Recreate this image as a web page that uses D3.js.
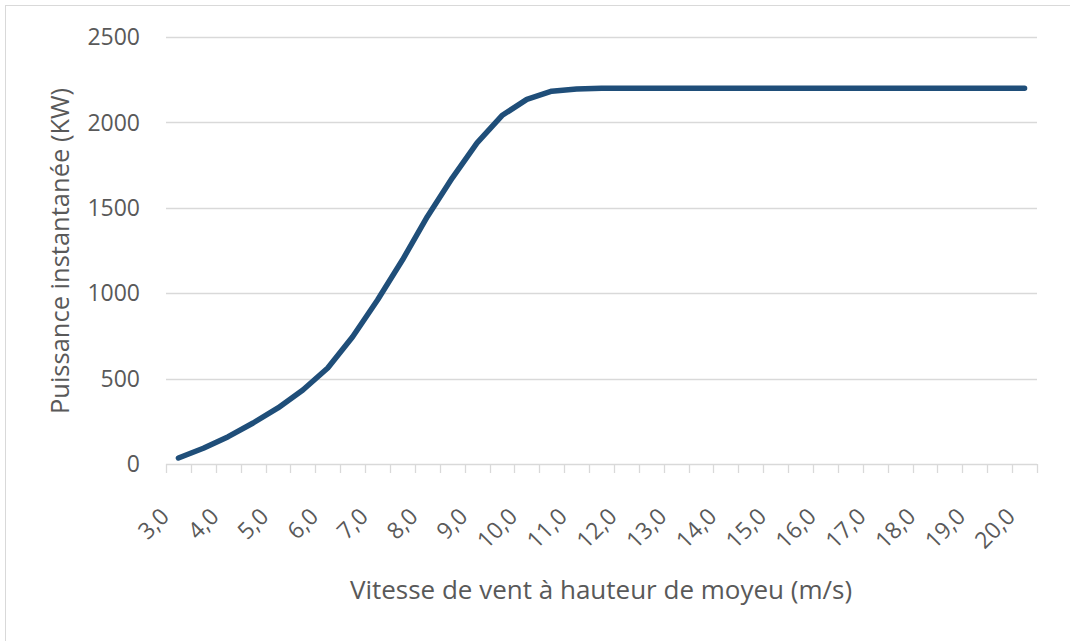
<!DOCTYPE html>
<html>
<head>
<meta charset="utf-8">
<script src="https://cdn.jsdelivr.net/npm/d3@7"></script>
<style>
  html, body { margin: 0; padding: 0; background: #fff; }
  svg { display: block; }
  text { font-family: "Open Sans", sans-serif; fill: #595959; }
</style>
</head>
<body>
<svg id="chart" width="1070" height="641"></svg>
<script>
// wind speed categories (m/s)
const speeds = [3.0, 3.5, 4.0, 4.5, 5.0, 5.5, 6.0, 6.5, 7.0, 7.5, 8.0, 8.5, 9.0, 9.5,
  10.0, 10.5, 11.0, 11.5, 12.0, 12.5, 13.0, 13.5, 14.0, 14.5, 15.0, 15.5, 16.0, 16.5,
  17.0, 17.5, 18.0, 18.5, 19.0, 19.5, 20.0];
// instantaneous power (kW)
const power = [35, 92, 160, 240, 328, 433, 562, 745, 960, 1194, 1448, 1674, 1880, 2040,
  2135, 2183, 2195, 2200, 2200, 2200, 2200, 2200, 2200, 2200, 2200, 2200, 2200, 2200,
  2200, 2200, 2200, 2200, 2200, 2200, 2200];
const yTicks = [0, 500, 1000, 1500, 2000, 2500];
const xTitle = "Vitesse de vent à hauteur de moyeu (m/s)";
const yTitle = "Puissance instantanée (KW)";

const svg = d3.select("#chart");
const plotLeft = 166, plotRight = 1037, plotTop = 37, plotBottom = 464;
const grid = "#d9d9d9";

// chart frame
svg.append("rect")
  .attr("x", 5.5).attr("y", 5.5)
  .attr("width", 1080).attr("height", 650)
  .attr("fill", "none").attr("stroke", grid);

const x = d3.scaleBand().domain(d3.range(speeds.length)).range([plotLeft, plotRight]).padding(0);
const y = d3.scaleLinear().domain([0, 2500]).range([plotBottom, plotTop]);

// horizontal gridlines
svg.append("g").selectAll("line")
  .data(yTicks.filter(d => d > 0))
  .join("line")
  .attr("x1", plotLeft).attr("x2", plotRight)
  .attr("y1", d => Math.round(y(d)) + 0.5).attr("y2", d => Math.round(y(d)) + 0.5)
  .attr("stroke", grid).attr("stroke-width", 1.3);

// y labels
svg.append("g").selectAll("text")
  .data(yTicks)
  .join("text")
  .attr("x", 140).attr("y", d => y(d))
  .attr("dy", "0.36em")
  .attr("text-anchor", "end")
  .attr("font-size", 23)
  .text(d => d);

// x axis line and tick marks between categories
svg.append("line")
  .attr("x1", plotLeft).attr("x2", plotRight)
  .attr("y1", plotBottom + 0.5).attr("y2", plotBottom + 0.5)
  .attr("stroke", grid).attr("stroke-width", 1.3);
const bounds = speeds.map((d, i) => x(i)).concat([x(speeds.length - 1) + x.bandwidth()]);
svg.append("g").selectAll("line")
  .data(bounds)
  .join("line")
  .attr("x1", d => Math.round(d) + 0.5).attr("x2", d => Math.round(d) + 0.5)
  .attr("y1", plotBottom).attr("y2", plotBottom + 9)
  .attr("stroke", grid).attr("stroke-width", 1.3);

// x labels every 1 m/s, rotated
svg.append("g").selectAll("text")
  .data(speeds.map((s, i) => ({ s, i })).filter(d => d.i % 2 === 0))
  .join("text")
  .attr("transform", d => `translate(${x(d.i) + x.bandwidth() / 2 - 8},${plotBottom + 54}) rotate(-45)`)
  .attr("text-anchor", "end")
  .attr("font-size", 23)
  .text(d => d.s.toFixed(1).replace(".", ","));

// power curve
const line = d3.line()
  .x((d, i) => x(i) + x.bandwidth() / 2)
  .y(d => y(d));
svg.append("path")
  .datum(power)
  .attr("d", line)
  .attr("fill", "none")
  .attr("stroke", "#1f4e79")
  .attr("stroke-width", 5.5)
  .attr("stroke-linejoin", "round")
  .attr("stroke-linecap", "round");

// axis titles
svg.append("text")
  .attr("x", 601).attr("y", 599)
  .attr("text-anchor", "middle")
  .attr("font-size", 26)
  .text(xTitle);
svg.append("text")
  .attr("transform", `translate(69,251) rotate(-90)`)
  .attr("text-anchor", "middle")
  .attr("font-size", 25.5)
  .text(yTitle);
</script>
</body>
</html>
